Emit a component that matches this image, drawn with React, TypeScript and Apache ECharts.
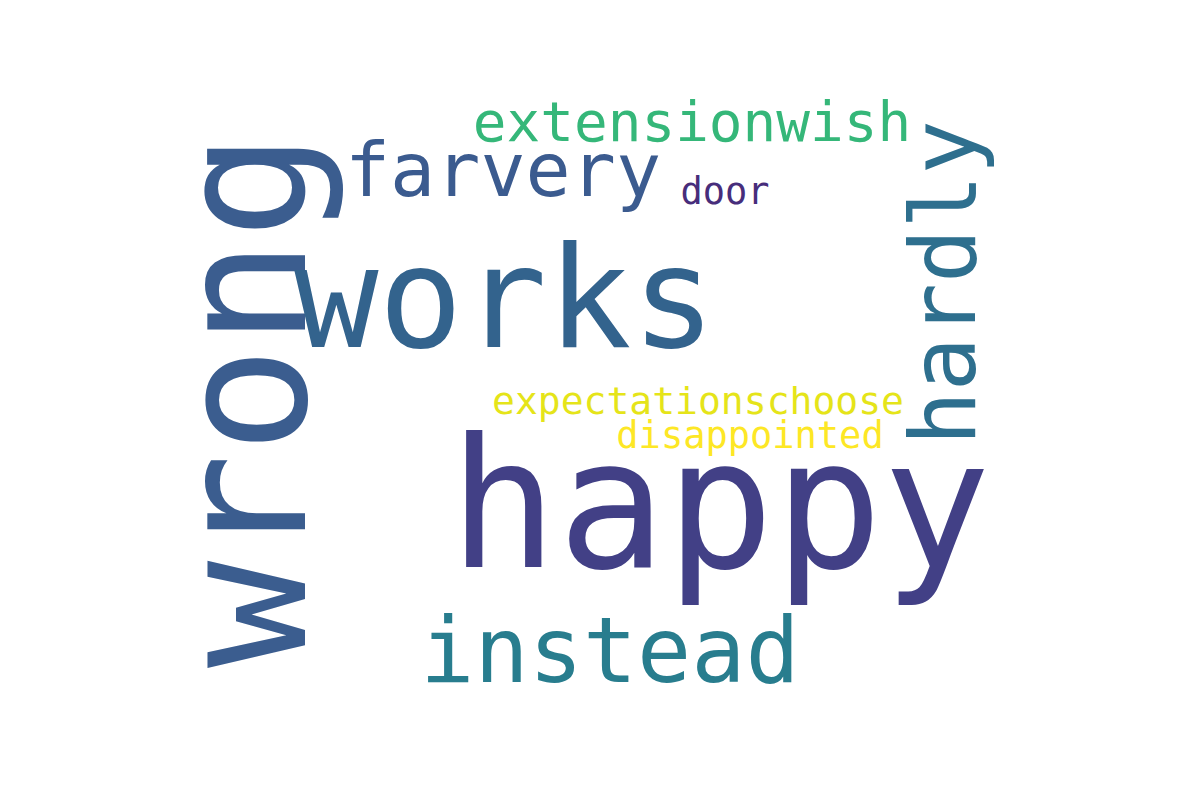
import React, { useEffect, useRef } from "react";
import * as echarts from "echarts";

const words = ["happy", "wrong", "works", "instead", "farvery", "hardly", "extensionwish", "door", "expectationschoose", "disappointed"];
const fontSizes = [180, 178, 140, 90, 75, 90, 56, 37, 38, 37];
const rotations = [0, 90, 0, 0, 0, 90, 0, 0, 0, 0];
const colors = ["#424086", "#3b5d8f", "#33638d", "#287d8e", "#3b5b8f", "#2e6f8e", "#35b779", "#472d7b", "#e5e419", "#fde725"];
const posX = [720, 243, 505, 610, 503, 943, 692, 725, 698, 750];
const posY = [504, 400, 298, 650, 170, 283, 121, 191, 401, 435];

export default function App() {
  const ref = useRef<HTMLDivElement>(null);
  useEffect(() => {
    const chart = echarts.init(ref.current!, null, { renderer: "svg" });
    chart.setOption({
      animation: false,
      backgroundColor: "#ffffff",
      grid: { left: 0, right: 0, top: 0, bottom: 0 },
      xAxis: { type: "value", min: 0, max: 1200, show: false },
      yAxis: { type: "value", min: 0, max: 800, inverse: true, show: false },
      series: [
        {
          type: "scatter",
          symbolSize: 0,
          itemStyle: { opacity: 1 },
          data: words.map((w, i) => ({
            name: w,
            value: [posX[i], posY[i]],
            label: {
              show: true,
              formatter: w,
              position: "inside",
              align: "center",
              verticalAlign: "middle",
              fontFamily: "DejaVu Sans Mono",
              fontSize: fontSizes[i],
              rotate: rotations[i],
              color: colors[i],
              opacity: 1,
            },
          })),
        },
      ],
    });
    return () => chart.dispose();
  }, []);
  return <div ref={ref} style={{ position: "fixed", left: 0, top: 0, width: 1200, height: 800 }} />;
}
